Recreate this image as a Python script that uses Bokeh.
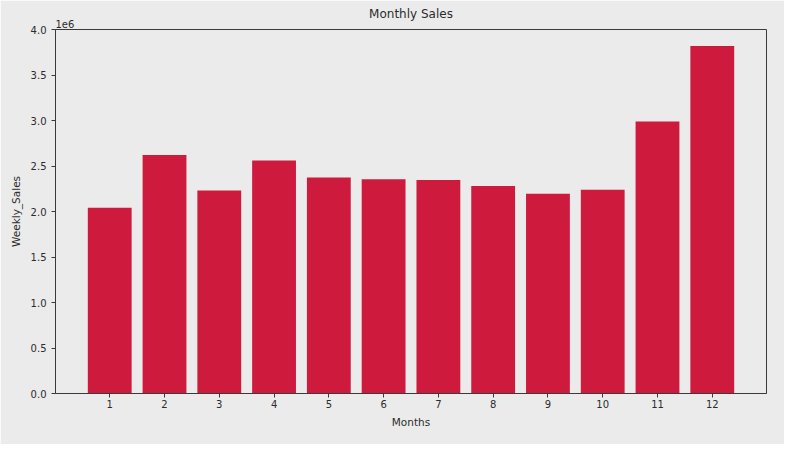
from bokeh.plotting import figure
from bokeh.models import Range1d, FixedTicker, CustomJSTickFormatter, Title
from bokeh.embed import file_html
from bokeh.resources import INLINE

months = [1, 2, 3, 4, 5, 6, 7, 8, 9, 10, 11, 12]
weekly_sales = [2.04e6, 2.62e6, 2.23e6, 2.56e6, 2.375e6, 2.355e6, 2.345e6,
                2.28e6, 2.195e6, 2.24e6, 2.99e6, 3.82e6]
y_ticks = [0, 0.5e6, 1.0e6, 1.5e6, 2.0e6, 2.5e6, 3.0e6, 3.5e6, 4.0e6]

FONT = "DejaVu Sans"
TXT = "#2b2b2b"

p = figure(width=784, height=444, output_backend="svg", toolbar_location=None,
           x_range=Range1d(0.01, 12.99), y_range=Range1d(0, 4.0e6),
           min_border_left=55, min_border_right=18, min_border_top=29, min_border_bottom=51)

p.vbar(x=months, top=weekly_sales, width=0.8, fill_color="#ce1a3d", line_color=None)

p.background_fill_color = "#ebebeb"
p.border_fill_color = "#ebebeb"
p.outline_line_color = "#3a3a3a"
p.outline_line_width = 1
p.xgrid.visible = False
p.ygrid.visible = False

offset_title = Title(text="1e6", align="left", text_font=FONT, text_font_size="10px",
                     text_font_style="normal", text_color=TXT, standoff=4)
main_title = Title(text="Monthly Sales", align="center", text_font=FONT, text_font_size="12px",
                   text_font_style="normal", text_color=TXT, standoff=-11)
p.add_layout(offset_title, "above")
p.add_layout(main_title, "above")

p.xaxis.ticker = FixedTicker(ticks=months)
p.yaxis.ticker = FixedTicker(ticks=y_ticks)
p.yaxis.formatter = CustomJSTickFormatter(code="return (tick/1e6).toFixed(1);")

for ax in (p.xaxis[0], p.yaxis[0]):
    ax.major_label_text_font = FONT
    ax.major_label_text_font_size = "10px"
    ax.major_label_text_color = TXT
    ax.axis_label_text_font = FONT
    ax.axis_label_text_font_size = "10.5px"
    ax.axis_label_text_font_style = "normal"
    ax.axis_label_text_color = TXT
    ax.axis_line_color = "#3a3a3a"
    ax.major_tick_line_color = "#3a3a3a"
    ax.major_tick_out = 4
    ax.major_tick_in = 0
    ax.minor_tick_line_color = None

p.xaxis.axis_label = "Months"
p.yaxis.axis_label = "Weekly_Sales"
p.xaxis.axis_label_standoff = 5
p.yaxis.axis_label_standoff = 6
p.xaxis.major_label_standoff = 2
p.yaxis.major_label_standoff = 5

open("out.html", "w").write(file_html(p, INLINE))
